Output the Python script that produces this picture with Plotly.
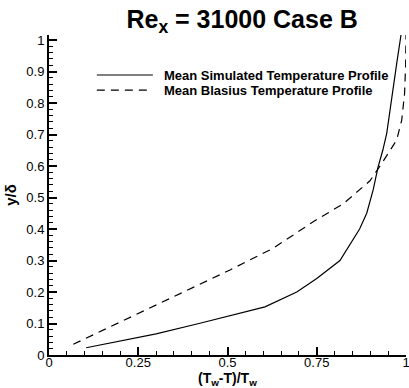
import plotly.graph_objects as go

# Mean simulated temperature profile
sim_theta = [0.104, 0.20, 0.30, 0.42, 0.50, 0.605, 0.694, 0.75, 0.815, 0.843, 0.87, 0.89, 0.908, 0.922, 0.935, 0.946, 0.96, 0.974, 0.986]
sim_y = [0.023, 0.045, 0.067, 0.10, 0.122, 0.153, 0.20, 0.243, 0.30, 0.349, 0.40, 0.45, 0.524, 0.598, 0.65, 0.704, 0.82, 0.926, 1.016]

# Mean Blasius temperature profile
bl_theta = [0.068, 0.20, 0.30, 0.40, 0.507, 0.628, 0.74, 0.824, 0.899, 0.936, 0.974, 0.988, 0.996, 0.999, 1.0]
bl_y = [0.034, 0.105, 0.159, 0.212, 0.27, 0.339, 0.423, 0.48, 0.553, 0.615, 0.683, 0.746, 0.83, 0.92, 1.016]

legend_labels = ["Mean Simulated Temperature Profile", "Mean Blasius Temperature Profile"]
legend_dashes = ["solid", "8px,6px"]

x_ticks = [0, 0.25, 0.5, 0.75, 1]
x_tick_text = ["0", "0.25", "0.5", "0.75", "1"]
y_ticks = [0, 0.1, 0.2, 0.3, 0.4, 0.5, 0.6, 0.7, 0.8, 0.9, 1]
y_tick_text = ["0", "0.1", "0.2", "0.3", "0.4", "0.5", "0.6", "0.7", "0.8", "0.9", "1"]

font = "Liberation Sans, Arial, sans-serif"

fig = go.Figure()
fig.add_trace(go.Scatter(x=sim_theta, y=sim_y, mode="lines",
                         line=dict(color="black", width=1.2, dash=legend_dashes[0]),
                         name=legend_labels[0], showlegend=False))
fig.add_trace(go.Scatter(x=bl_theta, y=bl_y, mode="lines",
                         line=dict(color="black", width=1.2, dash=legend_dashes[1]),
                         name=legend_labels[1], showlegend=False))

# Hand-placed legend (line sample + label) inside the plot area
legend_rows_y = [0.875, 0.828]
for label, dash, ly in zip(legend_labels, legend_dashes, legend_rows_y):
    fig.add_shape(type="line", xref="x domain", yref="y domain",
                  x0=0.134, x1=0.291, y0=ly, y1=ly,
                  line=dict(color="black", width=1.2, dash=dash))
    fig.add_annotation(text="<b>" + label + "</b>", xref="x domain", yref="y domain",
                       x=0.317, y=ly, xanchor="left", yanchor="middle", showarrow=False,
                       font=dict(family=font, size=13, color="black"))

# x-axis title placed at the bottom edge of the figure
fig.add_annotation(text="<b>(T<sub>w</sub>-T)/T<sub>w</sub></b>", xref="x domain", yref="paper",
                   x=0.5, y=-0.106, xanchor="center", yanchor="bottom", showarrow=False,
                   borderpad=0, font=dict(family=font, size=14, color="black"))

axis_common = dict(
    showgrid=False, zeroline=False, showline=True, linecolor="black", linewidth=2,
    ticks="inside", ticklen=8, tickwidth=1.5, tickcolor="black",
    tickfont=dict(family=font, size=13, color="black"),
    ticklabeloverflow="allow", automargin=False,
    minor=dict(ticks="inside", ticklen=4, tickwidth=1, tickcolor="black"),
)

fig.update_layout(
    width=409, height=388,
    margin=dict(l=49, r=3, t=35, b=33),
    paper_bgcolor="white", plot_bgcolor="white",
    showlegend=False,
    title=dict(text="<b>Re<sub>x</sub> = 31000 Case B</b>",
               x=0.592, xanchor="center", y=0.95, yanchor="middle",
               font=dict(family=font, size=25, color="black")),
)
fig.update_xaxes(range=[0, 1], tickvals=x_ticks, ticktext=x_tick_text,
                 minor_dtick=0.05, ticklabelstandoff=-6,
                 **axis_common)
fig.update_yaxes(range=[0, 1.016], tickvals=y_ticks, ticktext=y_tick_text,
                 minor_dtick=0.02,
                 title=dict(text="<b>y/δ</b>", standoff=6,
                            font=dict(family=font, size=15, color="black")),
                 **axis_common)

fig.write_html("out.html")
